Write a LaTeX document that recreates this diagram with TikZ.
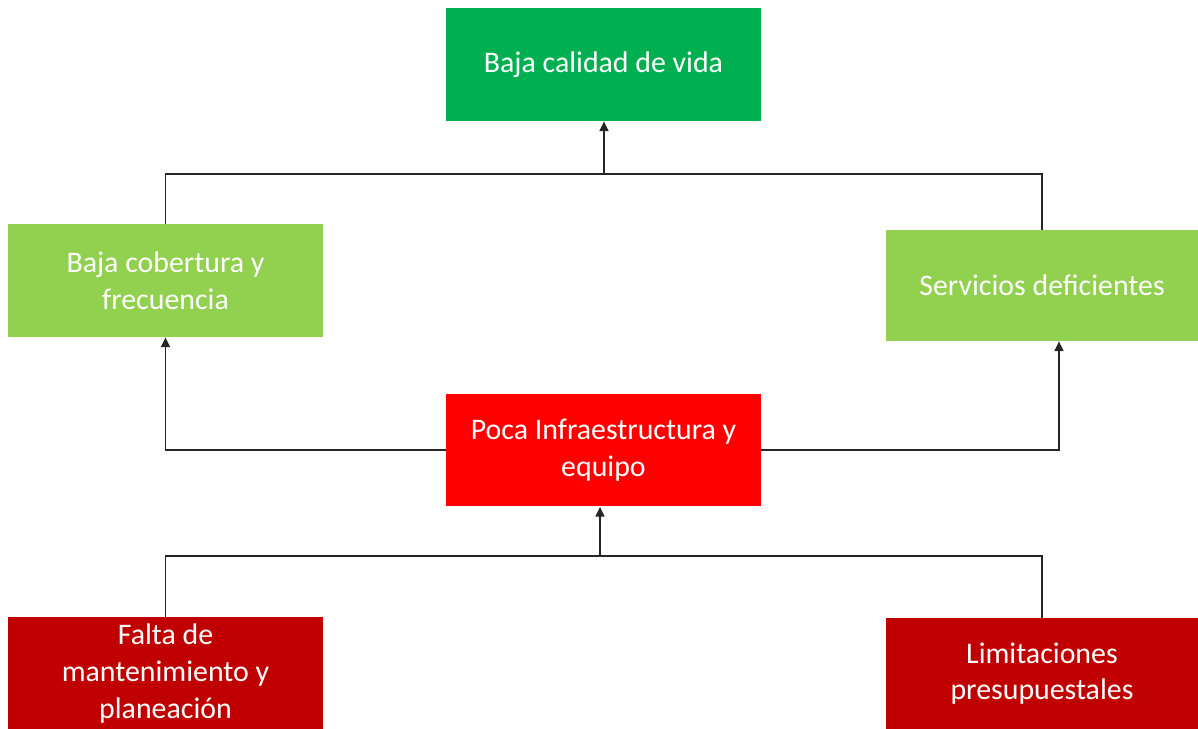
\documentclass[tikz,border=0pt]{standalone}
\usepackage{fontspec}
\setmainfont{Carlito}
\usetikzlibrary{arrows.meta}
\definecolor{topgreen}{HTML}{00B050}
\definecolor{midgreen}{HTML}{92D050}
\definecolor{midred}{HTML}{FF0000}
\definecolor{darkred}{HTML}{C00000}
\tikzset{
  box/.style={fill=#1, text=white, align=center, inner sep=0pt,
    font=\fontsize{17}{20.8}\selectfont},
  wide/.style={minimum width=6.3cm, minimum height=2.26cm},
  narrow/.style={minimum width=6.24cm, minimum height=2.22cm},
  link/.style={draw=black!85, line width=1pt},
  up/.style={link, -{Triangle[length=5.5pt,width=5pt]}}
}
\begin{document}
\begin{tikzpicture}[x=0.02cm,y=-0.02cm]
\useasboundingbox (0,0) rectangle (1198,728);
\clip (0,0) rectangle (1198,728);

% Effect at the top.
\node[box=topgreen, wide] (vida) at (603.5,64.5) {Baja calidad de vida};

% Intermediate effects.
\node[box=midgreen, wide] (cobertura) at (165.5,280.5) {Baja cobertura y\\frecuencia};
\node[box=midgreen, narrow] (servicios) at (1042,285.5) {Servicios deficientes};

% Central problem.
\node[box=midred, wide] (infra) at (603.5,450) {Poca Infraestructura y\\equipo};

% Causes, cut by the lower edge.
\node[box=darkred, wide] (falta) at (165.5,673.5) {Falta de\\mantenimiento y\\planeación};
\node[box=darkred, narrow] (limites) at (1042,673.5) {Limitaciones\\presupuestales};

% Upper junction.
\coordinate (jtop) at (604,174);
\draw[link] (cobertura.north) |- (jtop) -| (servicios.north);
\draw[up] (jtop) -- (jtop |- vida.south);

% Branches from the central problem.
\draw[up] (infra.west) -| (cobertura.south);
\draw[up] (infra.east) -| ([xshift=17*0.02cm]servicios.south);

% Lower junction.
\coordinate (jbot) at (600,556);
\draw[link] (falta.north) |- (jbot) -| (limites.north);
\draw[up] (jbot) -- (jbot |- infra.south);
\end{tikzpicture}
\end{document}
